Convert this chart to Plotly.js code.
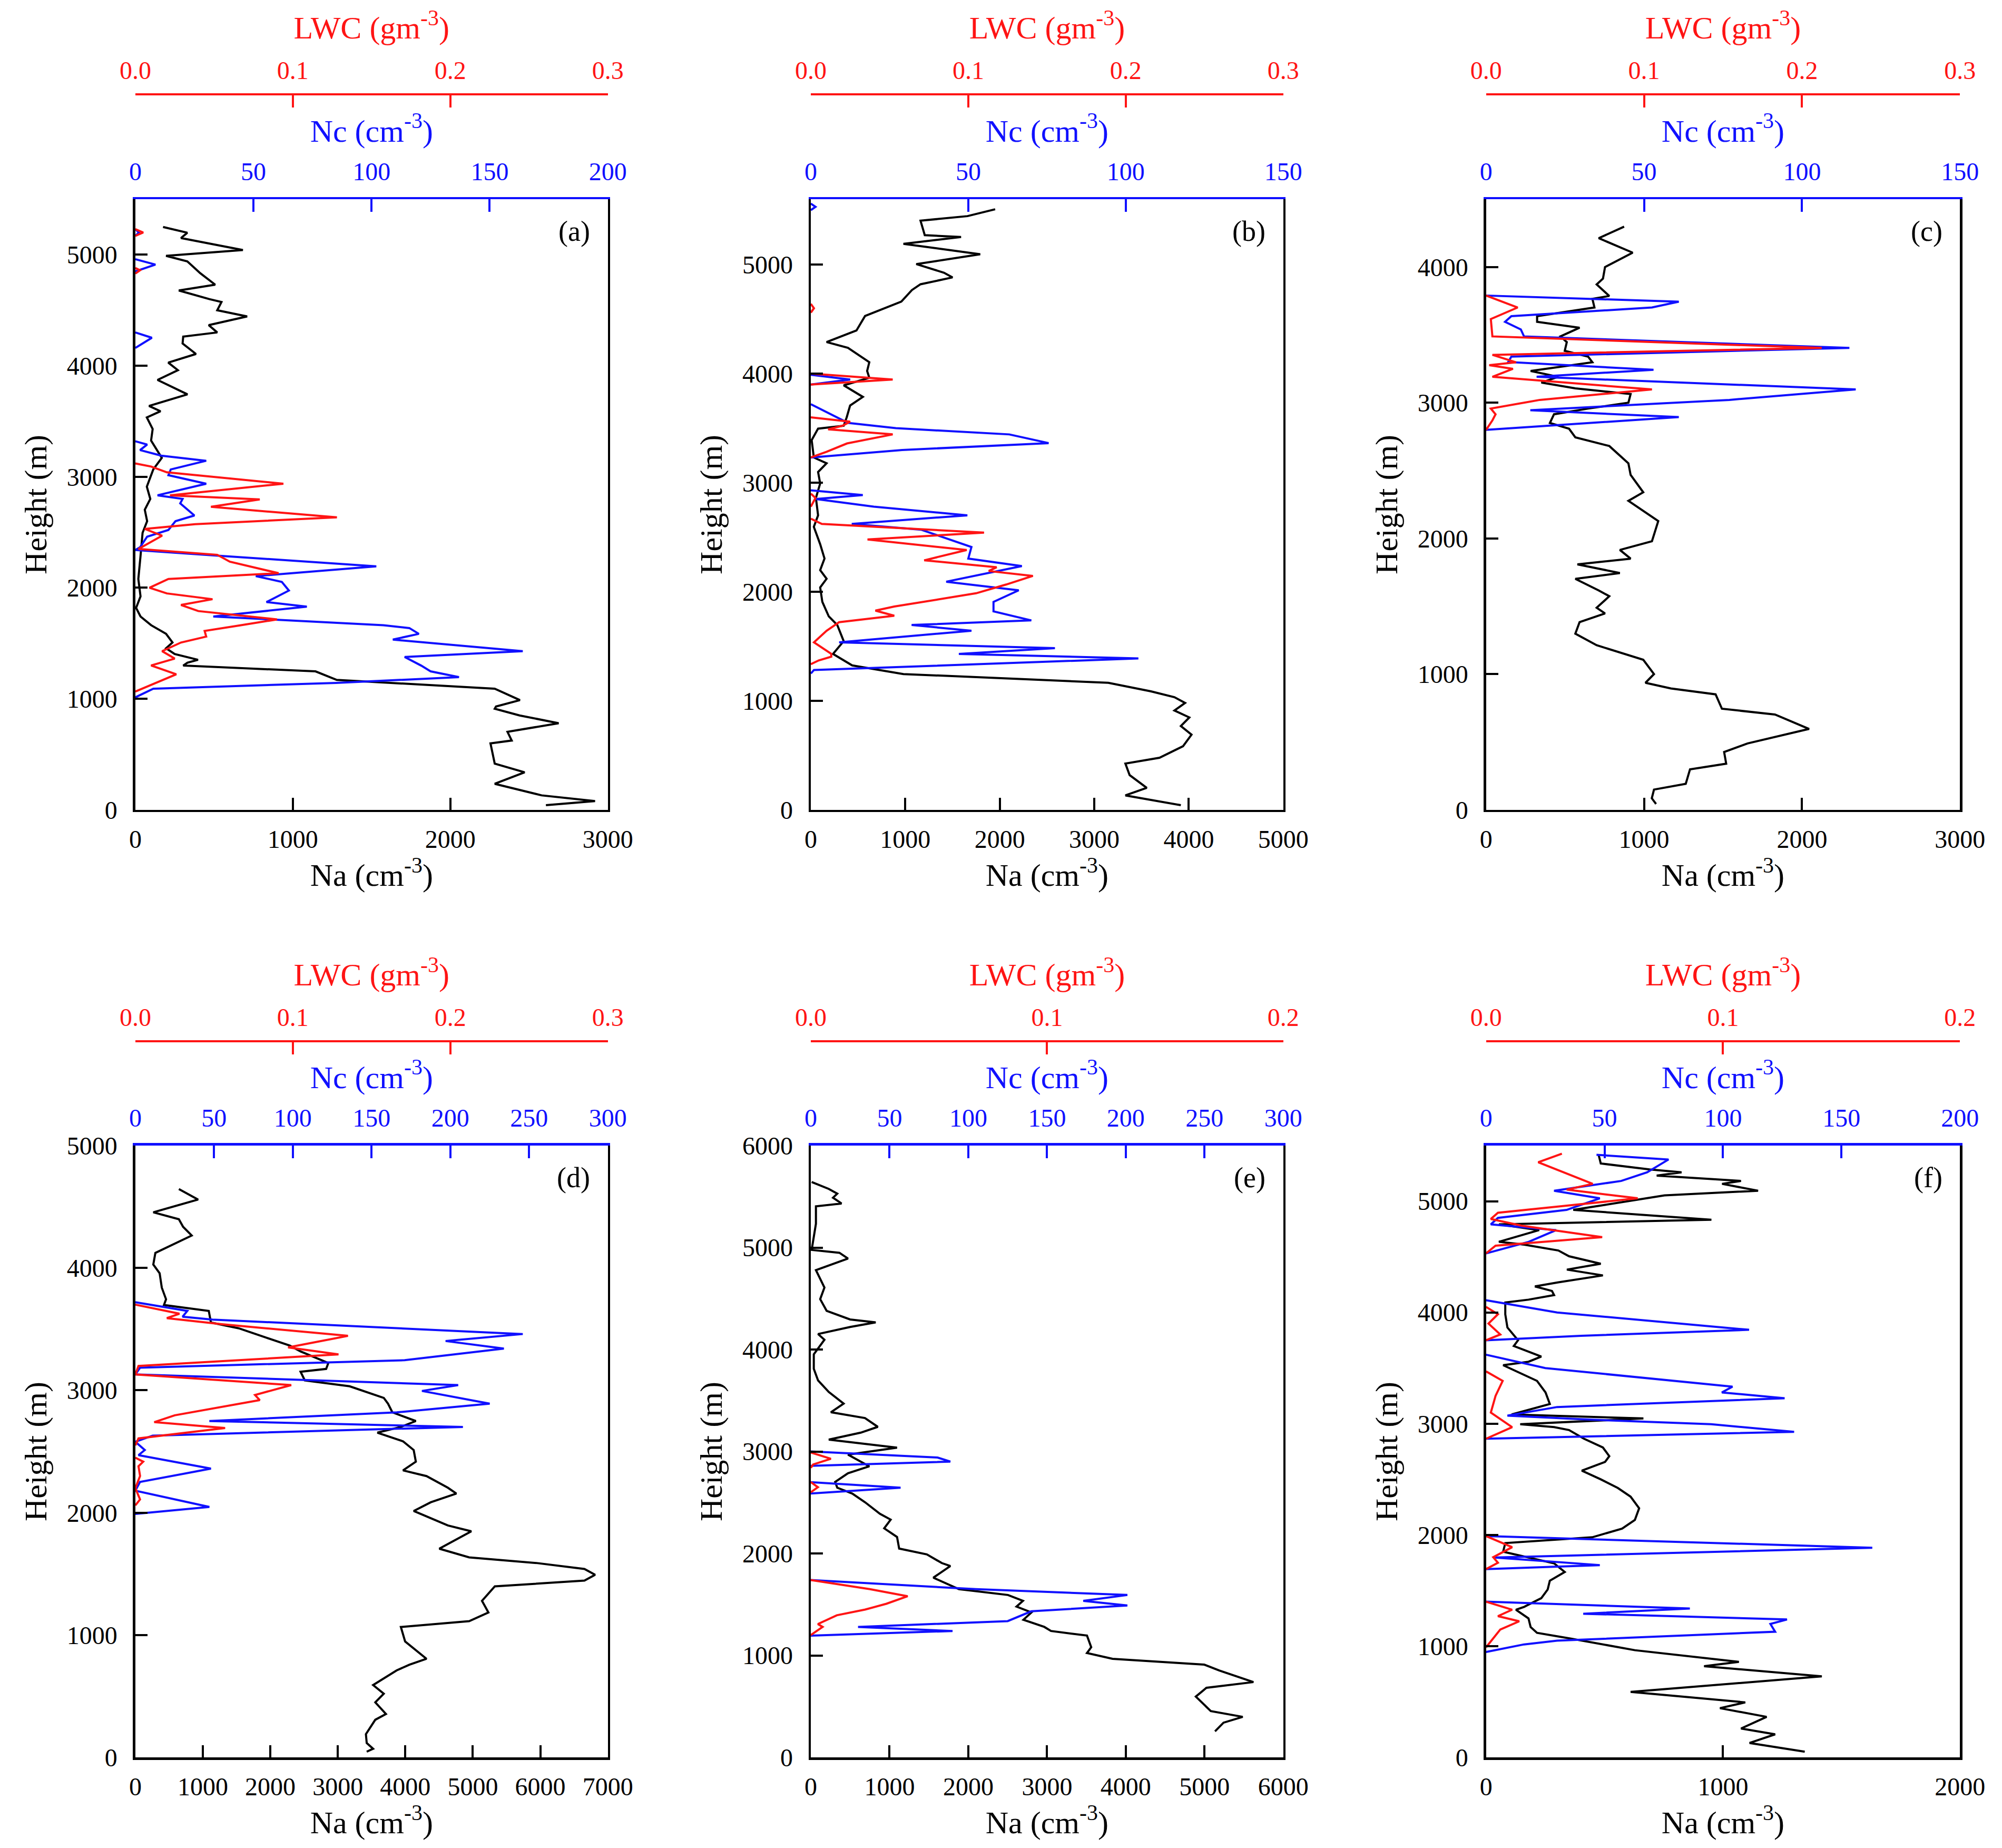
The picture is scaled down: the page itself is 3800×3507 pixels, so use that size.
<!DOCTYPE html>
<html>
<head>
<meta charset="utf-8">
<script src="https://cdn.plot.ly/plotly-3.0.1.min.js"></script>
<style>
  html, body { margin: 0; padding: 0; background: #fff; }
  #chart { width: 3800px; height: 3507px; }
</style>
</head>
<body>
<div id="chart"></div>
<script>
// (a)
const naA_h = [5250,5198,5150,5042,4990,4940,4834,4730,4678,4600,4574,4500,4444,4366,4300,4262,4200,4106,4028,3960,3872,3742,3638,3590,3534,3430,3326,3170,3066,2911,2800,2703,2600,2495,2287,2079,1923,1819,1741,1663,1585,1507,1455,1403,1351,1325,1299,1247,1170,1091,988,930,910,850,780,702,624,598,416,338,234,130,78,42];
const naA   = [176,330,290,683,195,330,412,507,276,470,547,520,710,466,520,304,300,385,209,270,141,331,87,160,73,110,100,168,114,73,95,60,75,46,33,19,33,5,33,100,195,236,195,250,398,331,304,1144,1279,2282,2442,2290,2282,2440,2688,2363,2390,2255,2282,2472,2282,2580,2919,2607];
const ncA_h = [5230,5200,5170,null,4960,4911,4850,null,4300,4252,4160,null,3320,3290,3240,3190,3144,3066,3014,2937,2833,2800,2760,2651,2600,2521,2460,2365,2340,2300,2287,2193,2105,2053,1975,1871,1830,1741,1663,1637,1585,1533,1429,1377,1299,1247,1195,1143,1091,1013];
const ncA   = [0,1.5,0,null,0,8.5,0,null,0,7,0,null,0,5,2,11,30,15,14,30,9.4,20,19,25,17,14,5,2,0,30,36.5,102,51,62,65,55.5,72.6,33,105,116,120,109,164,114,121,125,137,85,7.6,0];
const lwA_h = [5230,5200,5170,null,4880,4860,4830,null,3120,3092,3040,2937,2833,2796,2729,2635,2573,2530,2469,2350,2297,2235,2131,2079,2000,1949,1897,1845,1790,1715,1660,1611,1560,1507,1429,1362,1300,1221,1065];
const lwA   = [0,0.005,0,null,0,0.003,0,null,0,0.01,0.02,0.094,0.022,0.079,0.048,0.128,0.038,0.006,0.017,0.002,0.052,0.06,0.091,0.021,0.009,0.02,0.049,0.029,0.04,0.09,0.066,0.044,0.045,0.029,0.017,0.025,0.01,0.026,0];

// (b)
const naB_h = [5508,5445,5403,5270,5254,5191,5095,5005,4926,4883,4820,4767,4661,4529,4396,4290,4237,4105,4025,3962,3893,3787,3708,3600,3522,3496,3390,3231,3178,3098,2993,2860,2701,2595,2436,2304,2198,2119,2039,1907,1774,1695,1547,1430,1324,1245,1165,1086,1033,980,911,847,768,689,583,477,424,318,201,132,42];
const naB   = [1951,1658,1161,1206,1590,980,1793,1116,1409,1500,1161,1070,958,574,483,167,393,619,596,619,348,551,416,380,348,77,9,32,167,77,99,54,77,32,99,145,99,167,99,122,190,280,348,235,438,980,3148,3600,3848,3961,3848,4006,3916,4029,3939,3690,3329,3374,3555,3329,3916];
const ncB_h = [5560,5530,5500,null,3990,3946,3900,null,3720,3549,3500,3443,3363,3300,3231,null,2930,2887,2850,2780,2701,2622,2569,2410,2304,2235,2092,2013,1907,1820,1737,1695,1642,1536,1483,1430,1388,1282,1250];
const ncB   = [0,1.5,0,null,0,12.5,0,null,0,11.8,27,63,75.5,29,0,null,0,16.5,1.6,20,49.7,13,35,51,50,67,43,66,58,58,70,32,51,9,77.5,47,104,1,0];
const lwB_h = [4640,4600,4560,null,4000,3946,3900,null,3600,3560,3522,3490,3443,3360,3284,3231,null,2900,2860,2780,null,2670,2622,2542,2479,2383,2288,2225,2190,2145,2066,1986,1907,1864,1827,1780,1721,1642,1536,1430,1404,1370,1335];
const lwB   = [0,0.002,0,null,0,0.052,0,null,0,0.025,0.02,0.011,0.052,0.023,0.01,0,null,0,0.003,0,null,0,0.007,0.11,0.036,0.099,0.072,0.118,0.113,0.141,0.124,0.105,0.072,0.053,0.041,0.053,0.018,0.01,0.002,0.013,0.013,0.005,0];

// (c)
const naC_h = [4298,4213,4106,4000,3915,3872,3787,3766,3702,3638,3596,3553,3489,3447,3383,3340,3298,3234,3191,3149,3106,3064,3000,2957,2915,2851,2809,2745,2681,2553,2468,2340,2277,2128,1979,1915,1851,1809,1745,1702,1617,1574,1489,1447,1383,1298,1213,1170,1106,1000,936,894,851,745,702,596,489,426,340,298,191,149,85,43];
const naC   = [874,713,928,753,740,700,780,673,686,323,323,592,471,511,498,646,673,282,457,350,565,915,901,646,430,404,525,565,780,901,915,995,901,1090,1050,847,915,578,847,565,713,780,700,753,592,565,700,820,995,1063,1009,1170,1453,1493,1829,2045,1655,1507,1520,1291,1264,1063,1049,1076];
const ncC_h = [3790,3745,3702,3638,3596,3540,3489,3404,3340,3300,3243,3191,3098,3021,2945,2894,2800];
const ncC   = [0,61,52.5,8,6,11,12,115,8,7,53,16,117,77,14,61,0];
const lwC_h = [3790,3702,3617,3489,3404,3353,3298,3277,3250,3191,3098,3021,2957,2915,2870,2800];
const lwC   = [0,0.02,0.003,0.004,0.2125,0.004,0.019,0.002,0.017,0.004,0.105,0.034,0.003,0.006,0.004,0];

// (d)
const naD_h = [4645,4559,4455,4398,4336,4265,4123,4028,3957,3839,3744,3697,3649,3554,3507,3412,3365,3318,3223,3175,3152,3081,3033,2938,2891,2820,2749,2701,2654,2583,2512,2417,2346,2299,2204,2156,2085,2014,1896,1848,1706,1635,1588,1540,1493,1445,1398,1280,1185,1114,1066,948,806,758,711,592,521,450,355,308,190,118,71,47];
const naD   = [645,930,266,645,708,835,297,266,360,392,455,424,1088,1120,1531,2037,2290,2448,2859,2827,2448,2511,3175,3681,3744,3808,4156,3934,3586,3966,4124,4156,3966,4314,4630,4756,4377,4124,4630,4978,4503,4946,5958,6654,6812,6654,5326,5136,5231,4946,3934,3997,4314,4061,3871,3523,3681,3555,3713,3555,3416,3428,3523,3428];
const ncD_h = [3720,3649,3602,3578,3460,3403,3341,3246,3185,3130,3043,2995,2891,2820,2749,2701,2630,2580,2512,2470,2360,2251,2180,2047,1990];
const ncD   = [0,33,30,49,246,197,234,171,3,0,205,182,225,166,47,208,11,0,6,2,48,3,0,47,0];
const lwD_h = [3700,3626,3590,3540,3445,3351,3294,3199,3130,3043,2962,2920,2796,2740,2692,2607,2550,null,2450,2417,2380,2300,2200,2109,2060];
const lwD   = [0,0.028,0.02,0.055,0.135,0.097,0.129,0.002,0,0.099,0.076,0.079,0.025,0.012,0.057,0.002,0,null,0,0.005,0.002,0.003,0,0.003,0];

// (e)
const naE_h = [5643,5575,5529,5489,5432,5404,5233,5119,4977,4949,4892,4778,4608,4494,4380,4295,4266,4221,4152,4096,4039,3953,3811,3697,3584,3470,3385,3328,3242,3185,3117,3038,2969,2912,2855,2787,2702,2645,2588,2503,2389,2332,2247,2162,2048,1991,1906,1877,1763,1650,1593,1536,1479,1422,1350,1280,1240,1195,1081,1024,967,910,853,739,683,597,455,398,341,256];
const naE   = [11,228,336,282,390,65,65,38,11,363,472,65,173,119,201,499,824,499,92,173,119,38,38,92,228,417,255,688,851,634,228,1095,472,607,743,472,309,336,526,688,878,1014,932,1095,1122,1474,1664,1772,1556,1881,2504,2694,2612,2802,2700,2965,3050,3507,3561,3507,3832,4997,5187,5621,5024,4889,5079,5485,5241,5133];
const ncE_h = [3000,2941,2901,2860,null,2700,2645,2588,null,1740,1650,1593,1536,1490,1433,1337,1280,1240,1195];
const ncE   = [0,80.5,88.6,0,null,0,57,0,null,0,105,201,173,201,140,125,30,90,0];
const lwE_h = [2990,2929,2873,2840,null,2700,2650,2600,null,1740,1650,1581,1507,1450,1394,1308,1280,1200];
const lwE   = [0,0.0085,0.001,0,null,0,0.003,0,null,0,0.025,0.041,0.032,0.023,0.011,0.003,0.005,0];

// (f)
const naF_h = [5417,5339,5286,5260,5230,5182,5156,5094,5052,4922,4833,4792,4740,4635,4609,4557,4505,4438,4385,4333,4271,4234,4193,4156,4115,4089,3984,3865,3750,3698,3604,3557,3526,3385,3281,3177,3083,3047,2995,2969,2943,2865,2786,2708,2656,2578,2500,2422,2344,2240,2135,2057,1979,1953,1927,1849,1745,1667,1589,1510,1432,1354,1328,1250,1172,1120,1068,964,885,859,820,729,589,495,443,365,260,208,130,52];
const naF   = [475,484,690,825,720,1076,996,1148,753,368,951,54,224,54,161,305,350,484,341,493,305,206,278,287,179,81,81,90,135,117,233,179,72,215,251,269,108,664,144,287,350,413,493,520,502,404,484,556,610,646,628,574,448,269,81,72,287,332,269,260,233,161,126,179,188,215,359,628,951,1067,920,1417,610,1094,987,1184,1076,1220,1112,1345];
const ncF_h = [5417,5375,5260,5182,5094,5026,4922,4850,4792,4740,4635,4531,null,4110,4000,3844,3790,3750,null,3620,3500,3333,3281,3229,3150,3073,3040,2995,2927,2865,null,1990,1885,1797,1729,1693,null,1400,1339,1292,1240,1200,1130,1050,1016,948];
const ncF   = [46.6,77,68,57,28.7,48,34,5,2,29.6,18,0,null,0,30,111,40,0,null,0,25,104,99.5,126,30,9,40,95,130,0,null,0,163,3.6,48,0,null,0,86,41,127,120,122,30,16,0];
const lwF_h = [5427,5350,5156,5104,5026,4896,4840,4780,4677,4600,4531,null,4050,3984,3900,3802,3750,null,3470,3385,3250,3100,2969,2865,null,1990,1890,1800,1750,1693,null,1400,1328,1270,1224,1150,990];
const lwF   = [0.032,0.022,0.045,0.034,0.064,0.005,0.002,0.015,0.049,0.004,0,null,0,0.005,0.001,0.006,0,null,0,0.007,0.004,0.002,0.011,0,null,0,0.011,0.003,0.005,0,null,0,0.011,0.005,0.014,0.006,0];

const panelLabels = ['(a)', '(b)', '(c)', '(d)', '(e)', '(f)'];
const naSeries  = [[naA_h, naA], [naB_h, naB], [naC_h, naC], [naD_h, naD], [naE_h, naE], [naF_h, naF]];
const ncSeries  = [[ncA_h, ncA], [ncB_h, ncB], [ncC_h, ncC], [ncD_h, ncD], [ncE_h, ncE], [ncF_h, ncF]];
const lwcSeries = [[lwA_h, lwA], [lwB_h, lwB], [lwC_h, lwC], [lwD_h, lwD], [lwE_h, lwE], [lwF_h, lwF]];
const heightMax = [5500, 5600, 4500, 5000, 6000, 5500];
const naMax  = [3000, 5000, 3000, 7000, 6000, 2000];
const ncMax  = [200, 150, 150, 300, 300, 200];
const lwcMax = [0.3, 0.3, 0.3, 0.3, 0.2, 0.2];

// layout geometry
const colDomains = [[0.0676, 0.3036], [0.405, 0.641], [0.7423, 0.979]];
const rowDomains = [[0.5618, 0.8922], [0.049, 0.3801]];
const lwcPos = [0.9490, 0.4366];

const FONT = '"Liberation Serif", "Times New Roman", serif';
const RED = '#ff1414';
const BLUE = '#1010ff';
const TICK = 48, TITLE = 60;

const data = [];
const layout = {
  width: 3800,
  height: 3507,
  margin: { t: 0, l: 0, r: 0, b: 0 },
  paper_bgcolor: '#fff',
  plot_bgcolor: '#fff',
  showlegend: false,
  font: { family: FONT, size: TICK, color: '#000' },
  annotations: [],
};

for (let i = 0; i < 6; i++) {
  const col = i % 3, row = Math.floor(i / 3);
  const xNa = 3 * i + 1, xNc = 3 * i + 2, xLw = 3 * i + 3, yId = i + 1;
  const xs = n => (n === 1 ? 'x' : 'x' + n);
  const ys = n => (n === 1 ? 'y' : 'y' + n);
  const xk = n => (n === 1 ? 'xaxis' : 'xaxis' + n);
  const yk = n => (n === 1 ? 'yaxis' : 'yaxis' + n);

  data.push({
    type: 'scatter', mode: 'lines',
    x: naSeries[i][1], y: naSeries[i][0],
    xaxis: xs(xNa), yaxis: ys(yId),
    line: { color: '#000', width: 4 },
  });
  data.push({
    type: 'scatter', mode: 'lines',
    x: ncSeries[i][1], y: ncSeries[i][0],
    xaxis: xs(xNc), yaxis: ys(yId),
    line: { color: BLUE, width: 4 },
    connectgaps: false,
  });
  data.push({
    type: 'scatter', mode: 'lines',
    x: lwcSeries[i][1], y: lwcSeries[i][0],
    xaxis: xs(xLw), yaxis: ys(yId),
    line: { color: RED, width: 4 },
    connectgaps: false,
  });

  layout[xk(xNa)] = {
    domain: colDomains[col],
    anchor: ys(yId),
    side: 'bottom',
    range: [0, naMax[i]],
    dtick: 1000, tick0: 0,
    showgrid: false, zeroline: false,
    showline: true, linecolor: '#000', linewidth: 4.5,
    ticks: 'inside', ticklen: 23, tickwidth: 4, tickcolor: '#000',
    ticklabelstandoff: 10,
    tickfont: { family: FONT, size: TICK, color: '#000' },
    title: { text: 'Na (cm<sup>-3</sup>)', font: { family: FONT, size: TITLE, color: '#000' }, standoff: 16 },
  };
  layout[xk(xNc)] = {
    overlaying: xs(xNa),
    anchor: ys(yId),
    side: 'top',
    range: [0, ncMax[i]],
    dtick: 50, tick0: 0,
    showgrid: false, zeroline: false,
    showline: true, linecolor: BLUE, linewidth: 4.5,
    ticks: 'inside', ticklen: 24, tickwidth: 4, tickcolor: BLUE,
    ticklabelstandoff: 12,
    tickfont: { family: FONT, size: TICK, color: BLUE },
    title: { text: 'Nc (cm<sup>-3</sup>)', font: { family: FONT, size: TITLE, color: BLUE }, standoff: 12 },
  };
  layout[xk(xLw)] = {
    overlaying: xs(xNa),
    anchor: 'free',
    position: lwcPos[row],
    side: 'top',
    range: [0, lwcMax[i]],
    dtick: 0.1, tick0: 0, tickformat: '.1f',
    showgrid: false, zeroline: false,
    showline: true, linecolor: RED, linewidth: 4.5,
    ticks: 'inside', ticklen: 23, tickwidth: 4, tickcolor: RED,
    ticklabelstandoff: 8,
    tickfont: { family: FONT, size: TICK, color: RED },
    title: { text: 'LWC (gm<sup>-3</sup>)', font: { family: FONT, size: TITLE, color: RED }, standoff: 12 },
  };
  layout[yk(yId)] = {
    domain: rowDomains[row],
    anchor: xs(xNa),
    side: 'left',
    range: [0, heightMax[i]],
    dtick: 1000, tick0: 0,
    showgrid: false, zeroline: false,
    showline: true, mirror: true, linecolor: '#000', linewidth: 4.5,
    ticks: 'inside', ticklen: 23, tickwidth: 4, tickcolor: '#000',
    ticklabelstandoff: 20,
    tickfont: { family: FONT, size: TICK, color: '#000' },
    title: { text: 'Height (m)', font: { family: FONT, size: TITLE, color: '#000' }, standoff: 20 },
  };

  layout.annotations.push({
    text: panelLabels[i],
    xref: xs(xNa) + ' domain', yref: ys(yId) + ' domain',
    x: 0.965, y: 0.975, xanchor: 'right', yanchor: 'top',
    showarrow: false,
    font: { family: FONT, size: 54, color: '#000' },
  });
}

Plotly.newPlot('chart', data, layout, { displayModeBar: false, staticPlot: true });
</script>
</body>
</html>
